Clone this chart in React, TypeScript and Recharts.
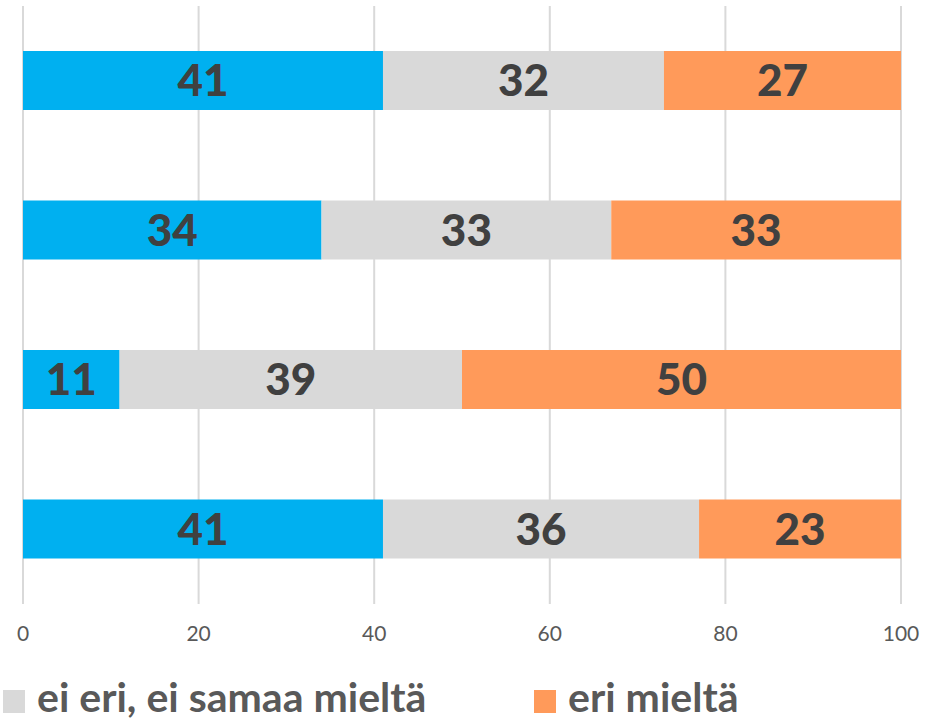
import React from "react";
import { BarChart, Bar, XAxis, YAxis, CartesianGrid, LabelList, Legend } from "recharts";

const categories = ["1", "2", "3", "4"];
const samaaMielta = [41, 34, 11, 41];
const eiEriEiSamaa = [32, 33, 39, 36];
const eriMielta = [27, 33, 50, 23];
const xTicks = [0, 20, 40, 60, 80, 100];

const data = categories.map((c, i) => ({
  name: c,
  samaa: samaaMielta[i],
  neutral: eiEriEiSamaa[i],
  eri: eriMielta[i],
}));

const FONT = "Lato, 'Open Sans', sans-serif";

const renderLegend = (props: any) => {
  const items = (props.payload || []).filter((p: any) => p.dataKey !== "samaa");
  const lefts = [3, 534];
  return (
    <div style={{ position: "relative", width: 930, height: 40 }}>
      {items.map((it: any, i: number) => (
        <React.Fragment key={i}>
          <span
            style={{
              position: "absolute",
              left: lefts[i],
              top: 14,
              width: 22,
              height: 23,
              background: it.color,
            }}
          />
          <span
            style={{
              position: "absolute",
              left: lefts[i] + 34,
              top: 1,
              whiteSpace: "nowrap",
              fontFamily: FONT,
              fontWeight: 700,
              fontSize: 41,
              color: "#595959",
              lineHeight: "40px",
            }}
          >
            {it.value}
          </span>
        </React.Fragment>
      ))}
    </div>
  );
};

export default function App() {
  return (
    <div style={{ position: "absolute", left: 0, top: 0, width: 930, height: 719, overflow: "hidden", background: "#fff" }}>
      <BarChart
        width={930}
        height={719}
        data={data}
        layout="vertical"
        margin={{ top: 6, right: 29, bottom: 25, left: 23 }}
        barSize={59}
      >
        <CartesianGrid horizontal={false} vertical={true} stroke="#d9d9d9" strokeWidth={2} />
        <XAxis
          type="number"
          domain={[0, 100]}
          ticks={xTicks}
          axisLine={false}
          tickLine={false}
          height={50}
          tickMargin={16}
          tick={{ fill: "#595959", fontSize: 21, fontFamily: FONT }}
          interval={0}
        />
        <YAxis type="category" dataKey="name" hide />
        <Legend
          verticalAlign="bottom"
          content={renderLegend}
          wrapperStyle={{ left: 0, top: 676, bottom: "auto", width: 930 }}
        />
        <Bar dataKey="samaa" name="samaa mieltä" stackId="a" fill="#00B0F0" isAnimationActive={false}>
          <LabelList dataKey="samaa" position="center" fill="#404040" style={{ fontFamily: FONT, fontWeight: 900, fontSize: 44 }} />
        </Bar>
        <Bar dataKey="neutral" name="ei eri, ei samaa mieltä" stackId="a" fill="#D9D9D9" isAnimationActive={false}>
          <LabelList dataKey="neutral" position="center" fill="#404040" style={{ fontFamily: FONT, fontWeight: 900, fontSize: 44 }} />
        </Bar>
        <Bar dataKey="eri" name="eri mieltä" stackId="a" fill="#FF9A5A" isAnimationActive={false}>
          <LabelList dataKey="eri" position="center" fill="#404040" style={{ fontFamily: FONT, fontWeight: 900, fontSize: 44 }} />
        </Bar>
      </BarChart>
    </div>
  );
}
